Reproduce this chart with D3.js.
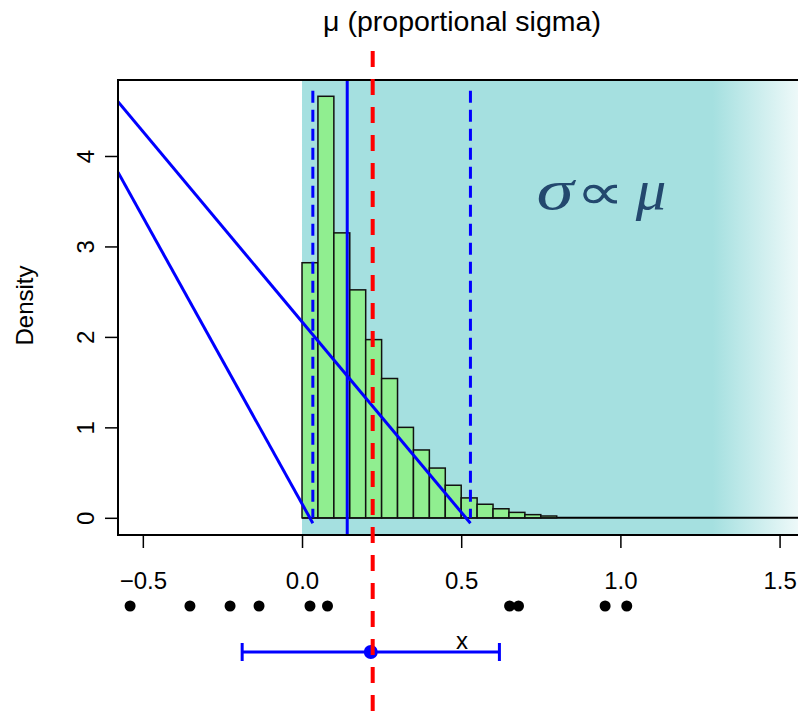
<!DOCTYPE html>
<html>
<head>
<meta charset="utf-8">
<script src="https://cdn.jsdelivr.net/npm/d3@7"></script>
<style>
  html, body { margin: 0; padding: 0; background: #ffffff; }
  svg { display: block; }
</style>
</head>
<body>
<svg id="chart" width="798" height="711"></svg>
<script>
// Histogram of simulated means: left bin edges and densities
const binLefts = [0.00, 0.05, 0.10, 0.15, 0.20, 0.25, 0.30, 0.35, 0.40, 0.45, 0.50, 0.55, 0.60, 0.65, 0.70, 0.75];
const binWidth = 0.05;
const density  = [2.82, 4.66, 3.15, 2.52, 1.97, 1.54, 1.00, 0.75, 0.55, 0.36, 0.22, 0.15, 0.10, 0.06, 0.035, 0.02];

// Sample observations shown below the axis
const samples = [-0.540, -0.352, -0.226, -0.135, 0.025, 0.080, 0.652, 0.680, 0.952, 1.020];

// Summary values
const trueMu = 0.222;          // red dashed reference
const medianSim = 0.142;       // solid blue line
const quantLo = 0.034, quantHi = 0.529;   // dashed blue lines
const sampleMean = 0.216, halfWidth = 0.404;

// Guide lines from the left edge down to the quantiles
const guides = [
  { x1: -0.578, y1: 4.60, x2: quantHi, y2: -0.06 },
  { x1: -0.578, y1: 3.82, x2: quantLo, y2: -0.06 }
];

const xTicks = [-0.5, 0.0, 0.5, 1.0, 1.5];
const yTicks = [0, 1, 2, 3, 4];

const W = 798, H = 711;
const box = { left: 118, right: 806, top: 80, bottom: 535 };

const x = d3.scaleLinear().domain([-0.578, 1.583]).range([box.left, box.right]);
const y = d3.scaleLinear().domain([-0.19, 4.84]).range([box.bottom, box.top]);

const svg = d3.select("#chart");
const defs = svg.append("defs");

defs.append("clipPath").attr("id", "plotClip")
  .append("rect")
  .attr("x", box.left).attr("y", box.top)
  .attr("width", box.right - box.left).attr("height", box.bottom - box.top);

const teal = "#a5e0e0";
const grad = defs.append("linearGradient").attr("id", "fade")
  .attr("gradientUnits", "userSpaceOnUse")
  .attr("x1", x(0)).attr("x2", box.right).attr("y1", 0).attr("y2", 0);
grad.append("stop").attr("offset", (x(1.29) - x(0)) / (box.right - x(0))).attr("stop-color", teal);
grad.append("stop").attr("offset", 1).attr("stop-color", "#f4fbfb");

const plot = svg.append("g").attr("clip-path", "url(#plotClip)");

// positive-support region
plot.append("rect")
  .attr("x", x(0)).attr("y", box.top)
  .attr("width", box.right - x(0)).attr("height", box.bottom - box.top)
  .attr("fill", "url(#fade)");

// zero line under the histogram tail
plot.append("line")
  .attr("x1", x(0)).attr("x2", box.right)
  .attr("y1", y(0)).attr("y2", y(0))
  .attr("stroke", "#000").attr("stroke-width", 2);

// histogram bars
plot.selectAll("rect.bar")
  .data(binLefts.map((b, i) => ({ b, d: density[i] })))
  .join("rect").attr("class", "bar")
  .attr("x", d => x(d.b))
  .attr("width", d => x(d.b + binWidth) - x(d.b))
  .attr("y", d => y(d.d))
  .attr("height", d => y(0) - y(d.d))
  .attr("fill", "#90ee90")
  .attr("stroke", "#111").attr("stroke-width", 1.5);

// quantile lines
plot.selectAll("line.q")
  .data([quantLo, quantHi])
  .join("line").attr("class", "q")
  .attr("x1", d => x(d)).attr("x2", d => x(d))
  .attr("y1", y(4.72)).attr("y2", y(0))
  .attr("stroke", "#0000ff").attr("stroke-width", 3)
  .attr("stroke-dasharray", "12,7");

plot.append("line")
  .attr("x1", x(medianSim)).attr("x2", x(medianSim))
  .attr("y1", box.top).attr("y2", box.bottom)
  .attr("stroke", "#0000ff").attr("stroke-width", 3);

plot.selectAll("line.guide")
  .data(guides)
  .join("line").attr("class", "guide")
  .attr("x1", d => x(d.x1)).attr("y1", d => y(d.y1))
  .attr("x2", d => x(d.x2)).attr("y2", d => y(d.y2))
  .attr("stroke", "#0000ff").attr("stroke-width", 3);

// annotation: sigma proportional to mu
const annColor = "#23486e";
const serif = "'Liberation Serif', 'DejaVu Serif', serif";
const annParts = [
  { t: "σ", cx: 555, font: serif, italic: true, size: 58, sx: 1.3 },
  { t: "∝", cx: 600, font: "'DejaVu Sans', sans-serif", italic: false, size: 50, sx: 1.35 },
  { t: "μ", cx: 651, font: serif, italic: true, size: 58, sx: 1.05 }
];
plot.selectAll("text.ann")
  .data(annParts)
  .join("text").attr("class", "ann")
  .attr("transform", d => `translate(${d.cx},209) scale(${d.sx},1)`)
  .attr("text-anchor", "middle")
  .attr("font-family", d => d.font)
  .attr("font-style", d => d.italic ? "italic" : "normal")
  .attr("font-size", d => d.size)
  .attr("fill", annColor)
  .text(d => d.t);

// frame
svg.append("path")
  .attr("d", `M${box.right},${box.top}H${box.left}V${box.bottom}H${box.right}`)
  .attr("fill", "none").attr("stroke", "#000").attr("stroke-width", 2);

const axisFont = "'Liberation Sans', Arial, sans-serif";

// y axis
const yAxis = svg.append("g").attr("transform", `translate(${box.left},0)`)
  .call(d3.axisLeft(y).tickValues(yTicks).tickSize(13).tickFormat(d3.format("d")));
yAxis.select(".domain").remove();
yAxis.selectAll(".tick line").attr("stroke", "#000").attr("stroke-width", 1.5);
yAxis.selectAll(".tick text")
  .attr("font-family", axisFont).attr("font-size", 24).attr("fill", "#000")
  .attr("x", null).attr("dy", null)
  .attr("text-anchor", "middle")
  .attr("transform", "translate(-33,0) rotate(-90) translate(0,9)");

svg.append("text")
  .attr("transform", `translate(33,${(box.top + box.bottom) / 2 - 2}) rotate(-90)`)
  .attr("text-anchor", "middle")
  .attr("font-family", axisFont).attr("font-size", 24)
  .text("Density");

// x axis
const xAxis = svg.append("g").attr("transform", `translate(0,${box.bottom})`)
  .call(d3.axisBottom(x).tickValues(xTicks).tickSize(13).tickFormat(d3.format(".1f")));
xAxis.select(".domain").remove();
xAxis.selectAll(".tick line").attr("stroke", "#000").attr("stroke-width", 1.5);
xAxis.selectAll(".tick text")
  .attr("font-family", axisFont).attr("font-size", 24).attr("fill", "#000")
  .attr("y", 54).attr("dy", null);

// sample points
svg.selectAll("circle.obs")
  .data(samples)
  .join("circle").attr("class", "obs")
  .attr("cx", d => x(d)).attr("cy", 606).attr("r", 5.5)
  .attr("fill", "#000");

// sample mean with interval
const ciY = 652;
svg.append("line")
  .attr("x1", x(sampleMean - halfWidth)).attr("x2", x(sampleMean + halfWidth))
  .attr("y1", ciY).attr("y2", ciY)
  .attr("stroke", "#0000ff").attr("stroke-width", 3);
svg.selectAll("line.cap")
  .data([sampleMean - halfWidth, sampleMean + halfWidth])
  .join("line").attr("class", "cap")
  .attr("x1", d => x(d)).attr("x2", d => x(d))
  .attr("y1", ciY - 9).attr("y2", ciY + 9)
  .attr("stroke", "#0000ff").attr("stroke-width", 3);
svg.append("circle")
  .attr("cx", x(sampleMean)).attr("cy", ciY).attr("r", 7)
  .attr("fill", "#0000ff");

svg.append("text")
  .attr("x", (box.left + box.right) / 2).attr("y", 649)
  .attr("text-anchor", "middle")
  .attr("font-family", axisFont).attr("font-size", 24)
  .text("x");

// title
svg.append("text")
  .attr("x", (box.left + box.right) / 2).attr("y", 31)
  .attr("text-anchor", "middle")
  .attr("font-family", axisFont).attr("font-size", 28.5)
  .text("μ (proportional sigma)");

// true mean reference across the whole figure
svg.append("line")
  .attr("x1", x(trueMu)).attr("x2", x(trueMu))
  .attr("y1", 51).attr("y2", H)
  .attr("stroke", "#ff0000").attr("stroke-width", 4)
  .attr("stroke-dasharray", "16,12");
</script>
</body>
</html>
